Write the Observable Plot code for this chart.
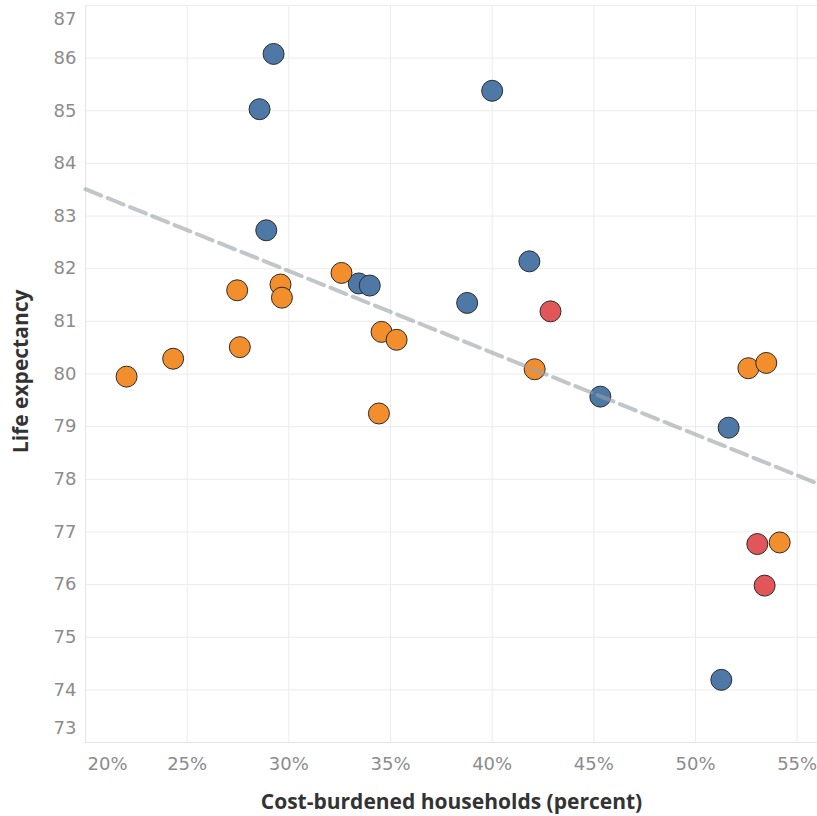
<!DOCTYPE html>
<html>
<head>
<meta charset="utf-8">
<script src="https://cdn.jsdelivr.net/npm/d3@7"></script>
<script src="https://cdn.jsdelivr.net/npm/@observablehq/plot@0.6"></script>
<style>
  html, body { margin: 0; padding: 0; background: #fff; }
  #chart { width: 817px; height: 816px; }
</style>
</head>
<body>
<div id="chart"></div>
<script>
// Data
const blueX = [29.25, 28.56, 28.89, 40.0, 41.83, 33.44, 33.98, 38.77, 45.32, 51.63, 51.27];
const blueY = [86.08, 85.03, 82.73, 85.38, 82.14, 81.72, 81.68, 81.35, 79.57, 78.98, 74.19];
const redX = [42.87, 53.04, 53.40];
const redY = [81.19, 76.77, 75.98];
const orangeX = [22.02, 24.31, 27.46, 27.59, 29.59, 29.66, 32.59, 34.56, 35.30, 34.43, 42.09, 52.60, 53.48, 54.14];
const orangeY = [79.95, 80.29, 81.59, 80.51, 81.70, 81.45, 81.92, 80.80, 80.65, 79.25, 80.09, 80.11, 80.21, 76.80];
const trendX = [20, 56];
const trendY = [83.51, 77.92];
const xTicks = [20, 25, 30, 35, 40, 45, 50, 55];
const yTicks = [73, 74, 75, 76, 77, 78, 79, 80, 81, 82, 83, 84, 85, 86, 87];
const groupColors = {blue: "#4e79a7", orange: "#f28e2b", red: "#e15759"};

const points = [
  ...blueX.map((x, i) => ({x, y: blueY[i], g: "blue"})),
  ...orangeX.map((x, i) => ({x, y: orangeY[i], g: "orange"})),
  ...redX.map((x, i) => ({x, y: redY[i], g: "red"}))
];
const trend = trendX.map((x, i) => ({x, y: trendY[i]}));

const font = "'DejaVu Sans', sans-serif";
const titleFont = "'Open Sans', sans-serif";
const tickColor = "#8c8c8c";
const innerX = xTicks.slice(1);
const innerY = yTicks.slice(1, -1);
const fmtY = d => String(d);
const fmtX = d => d + "%";

const chart = Plot.plot({
  width: 817,
  height: 816,
  marginLeft: 85,
  marginRight: 0,
  marginTop: 5,
  marginBottom: 74,
  style: {fontFamily: font, background: "#fff"},
  x: {domain: [20, 56]},
  y: {domain: [73, 87]},
  marks: [
    Plot.gridX(xTicks, {stroke: "#ececec", strokeOpacity: 1, strokeWidth: 1}),
    Plot.gridY(yTicks, {stroke: "#ececec", strokeOpacity: 1, strokeWidth: 1}),
    Plot.ruleX([20], {stroke: "#e4e4e4"}),
    Plot.ruleY([73], {stroke: "#e4e4e4"}),
    Plot.dot(points, {
      x: "x", y: "y", r: 10.5,
      fill: d => groupColors[d.g],
      stroke: "#2b2b2b", strokeWidth: 1, fillOpacity: 1
    }),
    Plot.line(trend, {
      x: "x", y: "y", stroke: "#9aa0a6", strokeOpacity: 0.6,
      strokeWidth: 4, strokeDasharray: "17,7"
    }),
    Plot.axisX(innerX, {
      tickSize: 0, tickPadding: 15, fontSize: 18, fill: tickColor,
      tickFormat: fmtX, label: null
    }),
    Plot.axisX([20], {
      tickSize: 0, tickPadding: 15, fontSize: 18, fill: tickColor,
      tickFormat: fmtX, label: null, dx: 22
    }),
    Plot.axisY(innerY, {
      tickSize: 0, tickPadding: 9, fontSize: 18, fill: tickColor, label: null, tickFormat: fmtY
    }),
    Plot.axisY([87], {
      tickSize: 0, tickPadding: 9, fontSize: 18, fill: tickColor, label: null, dy: 14, tickFormat: fmtY
    }),
    Plot.axisY([73], {
      tickSize: 0, tickPadding: 9, fontSize: 18, fill: tickColor, label: null, dy: -14, tickFormat: fmtY
    }),
    Plot.text(["Cost-burdened households (percent)"], {
      frameAnchor: "bottom", dy: 66, fontSize: 21, fontWeight: "bold",
      fill: "#333", fontFamily: titleFont, x: () => 38, text: d => d, textAnchor: "middle"
    }),
    Plot.text(["Life expectancy"], {
      frameAnchor: "left", dx: -64, rotate: -90, fontSize: 21, fontWeight: "bold",
      fill: "#333", fontFamily: titleFont, text: d => d, y: () => 80.05, textAnchor: "middle"
    })
  ]
});
document.getElementById("chart").appendChild(chart);
</script>
</body>
</html>
